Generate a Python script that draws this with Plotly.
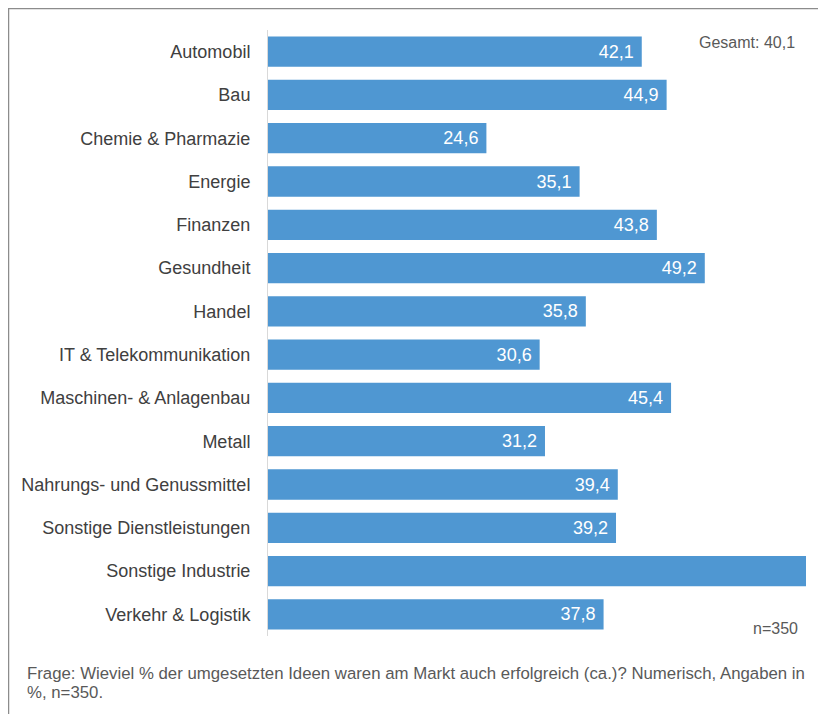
import plotly.graph_objects as go

categories = ["Automobil", "Bau", "Chemie & Pharmazie", "Energie", "Finanzen", "Gesundheit",
              "Handel", "IT & Telekommunikation", "Maschinen- & Anlagenbau", "Metall",
              "Nahrungs- und Genussmittel", "Sonstige Dienstleistungen", "Sonstige Industrie",
              "Verkehr & Logistik"]
values = [42.1, 44.9, 24.6, 35.1, 43.8, 49.2, 35.8, 30.6, 45.4, 31.2, 39.4, 39.2, 60.6, 37.8]
labels = ["42,1", "44,9", "24,6", "35,1", "43,8", "49,2", "35,8", "30,6", "45,4", "31,2",
          "39,4", "39,2", "", "37,8"]

OFF = 8  # page body margin
W, H = 826 - OFF, 714 - OFF
# plot area in page pixels
PL, PR, PT, PB = 268, 806, 30, 636
L, R, T, B = PL - OFF, (826 - OFF) - (PR - OFF), PT - OFF, H - (PB - OFF)
pw, ph = PR - PL, PB - PT

def px(x):
    return (x - PL) / pw

def py(y):
    return 1 - (y - PT) / ph

FONT = "Liberation Sans, Arial"

fig = go.Figure(go.Bar(
    y=categories, x=values, orientation="h",
    marker=dict(color="#4f97d2", line=dict(width=0)),
    text=[t + "\u00a0" if t else "" for t in labels],
    textposition="inside", insidetextanchor="end",
    textfont=dict(color="white", size=18, family=FONT),
    cliponaxis=False, hoverinfo="skip",
))

fig.update_layout(
    width=W, height=H, margin=dict(l=L, r=R, t=T, b=B, pad=0),
    paper_bgcolor="white", plot_bgcolor="white",
    bargap=0.3, showlegend=False,
    font=dict(family=FONT, size=18, color="#404040"),
    xaxis=dict(range=[0, 60.6], visible=False, fixedrange=True),
    yaxis=dict(autorange="reversed", showline=True, linecolor="#d9d9d9", linewidth=1,
               ticks="", ticklabelstandoff=13, showgrid=False,
               tickfont=dict(size=18, color="#404040", family=FONT)),
    uniformtext=dict(minsize=18, mode="show"),
)

# Frame (top, left, right; open at bottom)
x0, x1, yt, yb = px(8.5), px(822), py(8.5), py(730)
fig.add_shape(type="path", xref="paper", yref="paper",
              path=f"M {x0} {yb} L {x0} {yt} L {x1} {yt} L {x1} {yb}",
              line=dict(color="#8c8c8c", width=1.5))

grey = "#595959"
fig.add_annotation(xref="paper", yref="paper", x=px(797), y=py(42), xanchor="right", yanchor="middle",
                   text="Gesamt: 40,1", showarrow=False, font=dict(size=16, color=grey, family=FONT))
fig.add_annotation(xref="paper", yref="paper", x=px(800), y=py(628), xanchor="right", yanchor="middle",
                   text="n=350", showarrow=False, font=dict(size=16, color=grey, family=FONT))
fig.add_annotation(xref="paper", yref="paper", x=px(25), y=py(673.5), xanchor="left", yanchor="middle",
                   text="Frage: Wieviel % der umgesetzten Ideen waren am Markt auch erfolgreich (ca.)? Numerisch, Angaben in",
                   showarrow=False, font=dict(size=16.8, color=grey, family=FONT))
fig.add_annotation(xref="paper", yref="paper", x=px(25), y=py(692), xanchor="left", yanchor="middle",
                   text="%, n=350.",
                   showarrow=False, font=dict(size=16.8, color=grey, family=FONT))

fig.write_html("out.html")
